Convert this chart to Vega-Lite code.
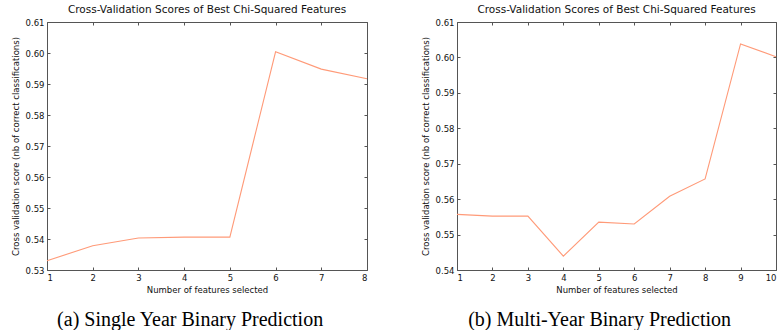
{
  "$schema": "https://vega.github.io/schema/vega-lite/v6.json",
  "background": "white",
  "padding": {"left": 10, "top": 4, "right": 0, "bottom": 0},
  "spacing": 50,
  "datasets": {
    "single": [
      {"features": 1, "score": 0.533},
      {"features": 2, "score": 0.5378},
      {"features": 3, "score": 0.5403},
      {"features": 4, "score": 0.5406},
      {"features": 5, "score": 0.5406},
      {"features": 6, "score": 0.6004},
      {"features": 7, "score": 0.5948},
      {"features": 8, "score": 0.5917}
    ],
    "multi": [
      {"features": 1, "score": 0.5557},
      {"features": 2, "score": 0.5552},
      {"features": 3, "score": 0.5552},
      {"features": 4, "score": 0.5439},
      {"features": 5, "score": 0.5535},
      {"features": 6, "score": 0.553},
      {"features": 7, "score": 0.5608},
      {"features": 8, "score": 0.5657},
      {"features": 9, "score": 0.6038},
      {"features": 10, "score": 0.6002}
    ]
  },
  "hconcat": [
    {
      "title": {"text": "(a) Single Year Binary Prediction", "orient": "bottom", "frame": "bounds", "anchor": "middle", "font": "Liberation Serif", "fontSize": 20, "fontWeight": "normal", "color": "black", "offset": 15},
      "vconcat": [
        {
          "title": {"text": "Cross-Validation Scores of Best Chi-Squared Features", "frame": "group", "anchor": "middle", "font": "DejaVu Sans", "fontSize": 10.5, "fontWeight": "normal", "color": "#111", "offset": 3},
          "width": 320,
          "height": 248,
          "data": {"name": "single"},
          "layer": [
            {
              "mark": {"type": "line", "color": "#ff9a78", "strokeWidth": 1.1},
              "encoding": {
                "x": {"field": "features", "type": "quantitative", "scale": {"domain": [1, 8], "nice": false, "zero": false},
                  "axis": {"orient": "bottom", "values": [1, 2, 3, 4, 5, 6, 7, 8], "format": "d", "title": "Number of features selected"}},
                "y": {"field": "score", "type": "quantitative", "scale": {"domain": [0.53, 0.61], "nice": false, "zero": false},
                  "axis": {"orient": "left", "values": [0.53, 0.54, 0.55, 0.56, 0.57, 0.58, 0.59, 0.6, 0.61], "format": ".2f", "title": "Cross validation score (nb of correct classifications)"}}
              }
            },
            {
              "mark": {"type": "line", "opacity": 0},
              "encoding": {
                "x": {"field": "features", "type": "quantitative",
                  "axis": {"orient": "top", "values": [1, 2, 3, 4, 5, 6, 7, 8], "labels": false, "title": null}},
                "y": {"field": "score", "type": "quantitative",
                  "axis": {"orient": "right", "values": [0.53, 0.54, 0.55, 0.56, 0.57, 0.58, 0.59, 0.6, 0.61], "labels": false, "title": null}}
              }
            }
          ],
          "resolve": {"axis": {"x": "independent", "y": "independent"}}
        }
      ]
    },
    {
      "title": {"text": "(b) Multi-Year Binary Prediction", "orient": "bottom", "frame": "bounds", "anchor": "middle", "font": "Liberation Serif", "fontSize": 20, "fontWeight": "normal", "color": "black", "offset": 15},
      "vconcat": [
        {
          "title": {"text": "Cross-Validation Scores of Best Chi-Squared Features", "frame": "group", "anchor": "middle", "font": "DejaVu Sans", "fontSize": 10.5, "fontWeight": "normal", "color": "#111", "offset": 3},
          "width": 319,
          "height": 248,
          "data": {"name": "multi"},
          "layer": [
            {
              "mark": {"type": "line", "color": "#ff9a78", "strokeWidth": 1.1},
              "encoding": {
                "x": {"field": "features", "type": "quantitative", "scale": {"domain": [1, 10], "nice": false, "zero": false},
                  "axis": {"orient": "bottom", "values": [1, 2, 3, 4, 5, 6, 7, 8, 9, 10], "format": "d", "title": "Number of features selected"}},
                "y": {"field": "score", "type": "quantitative", "scale": {"domain": [0.54, 0.61], "nice": false, "zero": false},
                  "axis": {"orient": "left", "values": [0.54, 0.55, 0.56, 0.57, 0.58, 0.59, 0.6, 0.61], "format": ".2f", "title": "Cross validation score (nb of correct classifications)"}}
              }
            },
            {
              "mark": {"type": "line", "opacity": 0},
              "encoding": {
                "x": {"field": "features", "type": "quantitative",
                  "axis": {"orient": "top", "values": [1, 2, 3, 4, 5, 6, 7, 8, 9, 10], "labels": false, "title": null}},
                "y": {"field": "score", "type": "quantitative",
                  "axis": {"orient": "right", "values": [0.54, 0.55, 0.56, 0.57, 0.58, 0.59, 0.6, 0.61], "labels": false, "title": null}}
              }
            }
          ],
          "resolve": {"axis": {"x": "independent", "y": "independent"}}
        }
      ]
    }
  ],
  "config": {
    "view": {"stroke": "#555", "strokeWidth": 1},
    "axis": {
      "grid": false,
      "domain": false,
      "tickColor": "#555",
      "tickSize": -3,
      "labelFont": "DejaVu Sans",
      "labelFontSize": 8.5,
      "labelColor": "#111",
      "labelPadding": 6,
      "titleFont": "DejaVu Sans",
      "titleFontSize": 8.5,
      "titleFontWeight": "normal",
      "titleColor": "#111"
    },
    "axisX": {"titlePadding": 4},
    "axisY": {"titlePadding": 5}
  }
}
